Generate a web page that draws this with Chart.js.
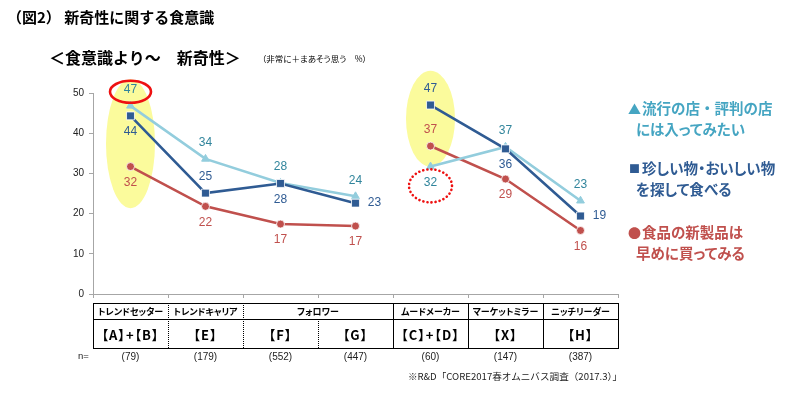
<!DOCTYPE html>
<html><head><meta charset="utf-8">
<script src="https://cdn.jsdelivr.net/npm/chart.js@4/dist/chart.umd.min.js"></script>
<style>
body{margin:0;background:#fff;}
#wrap{position:relative;width:800px;height:395px;overflow:hidden;font-family:"Noto Sans CJK JP","Noto Sans",sans-serif;}
canvas{position:absolute;left:0;top:0;}
.t{position:absolute;white-space:nowrap;line-height:1;}
.p{font-feature-settings:"palt";}
.ln{position:absolute;box-sizing:border-box;}
</style></head><body>
<div id="wrap">
<canvas id="c" width="800" height="395"></canvas>
<div class="t" style="left:7px;top:9px;font-size:15px;font-weight:bold;color:#000">（図2）&nbsp;新奇性に関する食意識</div>
<div class="t" style="left:49px;top:49px;font-size:16px;font-weight:bold;color:#000">＜食意識より～　新奇性＞</div>
<div class="t p" style="left:262px;top:54px;font-size:8.5px;color:#000">（非常に＋まあそう思う　%）</div>

<div class="t" style="left:628px;top:102px;font-size:13px;font-weight:bold;color:#45a5c2">▲</div>
<div class="t" style="left:642px;top:101px;font-size:14.5px;font-weight:bold;color:#45a5c2">流行の店・評判の店</div>
<div class="t p" style="left:636px;top:122px;font-size:14.5px;font-weight:bold;color:#45a5c2">には入ってみたい</div>

<div class="t" style="left:629px;top:163px;font-size:11px;font-weight:bold;color:#2f5b93">■</div>
<div class="t p" style="left:642px;top:161px;font-size:14.5px;font-weight:bold;color:#2f5b93">珍しい物・おいしい物</div>
<div class="t p" style="left:636px;top:182px;font-size:14.5px;font-weight:bold;color:#2f5b93">を探して食べる</div>

<div class="t" style="left:628px;top:226px;font-size:13px;font-weight:bold;color:#c0504d">●</div>
<div class="t p" style="left:642px;top:225px;font-size:14.5px;font-weight:bold;color:#c0504d">食品の新製品は</div>
<div class="t p" style="left:636px;top:246px;font-size:14.5px;font-weight:bold;color:#c0504d">早めに買ってみる</div>

<div class="t" style="left:78px;top:351px;font-size:9.5px;color:#222;font-family:'Liberation Sans',Arial,sans-serif">n=</div>
<div class="t" style="right:178px;top:372px;font-size:9.6px;color:#222">※R&amp;D「CORE2017春オムニバス調査（2017.3）」</div>
</div>
<script>
// ---- data ----
const categories = ['トレンドセッター','トレンドキャリア','フォロワー','フォロワー','ムードメーカー','マーケットミラー','ニッチリーダー'];
const segmentCodes = ['【A】+【B】','【E】','【F】','【G】','【C】+【D】','【X】','【H】'];
const sampleSizes = ['(79)','(179)','(552)','(447)','(60)','(147)','(387)'];
const trendyShop = [46.8, 33.6, 27.6, 24.3, 31.7, 36.6, 23.2];   // 流行の店・評判の店には入ってみたい
const rareFood   = [44.3, 25.1, 27.5, 22.6, 47.0, 36.1, 19.4];   // 珍しい物・おいしい物を探して食べる
const newProduct = [31.7, 21.8, 17.4, 16.9, 36.8, 28.6, 15.8];   // 食品の新製品は早めに買ってみる
const yMin = 0, yMax = 50, yStep = 10;
const lineBreakAfter = 3;

// ---- styling ----
const labelPlacement = {
  trendy: ['above','above','above','above','below','above','above'],
  rare:   ['below','above','below','right','above','below','right'],
  product:['below','below','below','below','above','below','below']
};
const highlights = [
  {cat:0, value:37.4, rx:24.5, ry:64.5, kind:'fill'},
  {cat:4, value:43.6, rx:24.5, ry:48, kind:'fill'},
  {cat:0, value:50.3, rx:20.5, ry:11, kind:'solid'},
  {cat:4, value:26.9, rx:21.5, ry:16.5, kind:'dotted'}
];
const dividerStyles = ['dotted','dotted','dotted','solid','solid','solid'];

function ellipse(ctx, h, chart){
  const x = chart.scales.x.getPixelForValue(h.cat);
  const y = chart.scales.y.getPixelForValue(h.value);
  ctx.beginPath();
  ctx.ellipse(x, y, h.rx, h.ry, 0, 0, Math.PI*2);
}
const highlightPlugin = {
  id:'highlights',
  beforeDatasetsDraw(chart){
    const ctx = chart.ctx; ctx.save();
    highlights.filter(h=>h.kind==='fill').forEach(h=>{
      ellipse(ctx,h,chart); ctx.fillStyle='#fbfb9c'; ctx.fill();
    });
    ctx.restore();
  },
  afterDatasetsDraw(chart){
    const ctx = chart.ctx; ctx.save();
    highlights.filter(h=>h.kind!=='fill').forEach(h=>{
      ellipse(ctx,h,chart);
      ctx.strokeStyle='#ee1111';
      if(h.kind==='dotted'){ ctx.lineWidth=2.6; ctx.setLineDash([0.1,4]); ctx.lineCap='round'; }
      else { ctx.lineWidth=2.6; ctx.setLineDash([]); }
      ctx.stroke();
    });
    ctx.restore();
  }
};
const labelPlugin = {
  id:'valueLabels',
  afterDatasetsDraw(chart){
    const ctx = chart.ctx; ctx.save();
    ctx.font = '12px "Liberation Sans", Arial, sans-serif';
    ctx.textAlign='center'; ctx.textBaseline='middle';
    chart.data.datasets.forEach((ds,di)=>{
      const meta = chart.getDatasetMeta(di);
      meta.data.forEach((pt,i)=>{
        const pos = ds.labelPos[i]; let x=pt.x, y=pt.y;
        if(pos==='above') y-=16; else if(pos==='below') y+=16; else x+=19;
        ctx.fillStyle = ds.labelColor;
        ctx.fillText(String(Math.round(ds.data[i])), x, y);
      });
    });
    ctx.restore();
  }
};
const gapSeg = {borderColor: c => c.p0DataIndex === lineBreakAfter ? 'rgba(0,0,0,0)' : undefined};

const chart = new Chart(document.getElementById('c'), {
  type:'line',
  data:{
    labels: categories.map((c,i)=>c+segmentCodes[i]),
    datasets:[
      {label:'珍しい物・おいしい物を探して食べる', data:rareFood, borderColor:'#2f5b93', backgroundColor:'#2f5b93',
       pointStyle:'rect', pointRadius:5.6, pointBorderColor:'#ffffff', pointBorderWidth:0.8, borderWidth:2.6,
       segment:gapSeg, labelPos:labelPlacement.rare, labelColor:'#2f5b93'},
      {label:'流行の店・評判の店には入ってみたい', data:trendyShop, borderColor:'#93cddd', backgroundColor:'#93cddd',
       pointStyle:'triangle', pointRadius:4.5, pointBorderColor:'#93cddd', pointBorderWidth:1, borderWidth:2.6,
       segment:gapSeg, labelPos:labelPlacement.trendy, labelColor:'#31859c'},
      {label:'食品の新製品は早めに買ってみる', data:newProduct, borderColor:'#c0504d', backgroundColor:'#c0504d',
       pointStyle:'circle', pointRadius:4, pointBorderColor:'#ffffff', pointBorderWidth:0.8, borderWidth:2.6,
       segment:gapSeg, labelPos:labelPlacement.product, labelColor:'#c0504d'}
    ]
  },
  options:{
    responsive:false, animation:false, devicePixelRatio:1,
    layout:{padding:{left:53, right:182, top:93, bottom:96}},
    plugins:{legend:{display:false}, tooltip:{enabled:false}},
    scales:{
      x:{type:'category', offset:true,
         grid:{offset:true, drawOnChartArea:false, drawTicks:true, tickLength:4, color:'#a6a6a6'},
         border:{color:'#a6a6a6', width:1},
         ticks:{display:false},
         afterFit(s){ s.height=5; s.paddingLeft=0; s.paddingRight=0; }},
      y:{min:yMin, max:yMax,
         ticks:{stepSize:yStep, color:'#222', font:{size:10, family:'"Liberation Sans", Arial, sans-serif'}, padding:5},
         grid:{drawOnChartArea:false, tickLength:4, color:'#a6a6a6'},
         border:{color:'#a6a6a6', width:1},
         afterFit(s){ s.width=40; s.paddingTop=0; s.paddingBottom=0; }}
    }
  },
  plugins:[highlightPlugin, labelPlugin]
});

// ---- table under the axis, aligned to the category scale ----
(function(){
  const wrap = document.getElementById('wrap');
  const xs = chart.scales.x;
  const centers = categories.map((_,i)=>xs.getPixelForValue(i));
  const half = (centers[1]-centers[0])/2;
  const edges = [centers[0]-half, ...centers.map(c=>c+half)].map(e=>Math.round(e));
  const top = Math.round(chart.chartArea.bottom) + 9, mid = top + 16, bottom = top + 45;
  function box(l,t,w,h,css){ const d=document.createElement('div'); d.className='ln';
    d.style.cssText=`left:${l}px;top:${t}px;width:${w}px;height:${h}px;`+css; wrap.appendChild(d); }
  function text(str,cx,cy,css){ const d=document.createElement('div'); d.className='t p';
    d.textContent=str; d.style.cssText+=css; wrap.appendChild(d);
    const r=d.getBoundingClientRect(); d.style.left=(cx-r.width/2)+'px'; d.style.top=(cy-r.height/2)+'px'; }
  const L=edges[0], R=edges[edges.length-1];
  box(L, top, R-L+1, bottom-top+1, 'border:1px solid #000;');
  box(L, mid, R-L+1, 1, 'border-top:1px solid #000;');
  for(let i=1;i<categories.length;i++){
    const merged = categories[i-1]===categories[i];
    const t0 = merged ? mid : top;
    box(edges[i], t0, 1, bottom-t0, `border-left:1px ${dividerStyles[i-1]} #000;`);
  }
  let i=0;
  while(i<categories.length){
    let j=i; while(j+1<categories.length && categories[j+1]===categories[i]) j++;
    text(categories[i], (edges[i]+edges[j+1])/2, (top+mid)/2+0.5, 'font-size:9px;font-weight:bold;color:#000;');
    i=j+1;
  }
  segmentCodes.forEach((s,k)=>text(s, centers[k], (mid+bottom)/2+0.5, 'font-size:13px;font-weight:bold;color:#000;letter-spacing:1px;'));
  sampleSizes.forEach((s,k)=>text(s, centers[k], bottom+9, "font-size:10px;color:#222;font-family:'Liberation Sans',Arial,sans-serif;"));
})();
</script>
</body></html>
